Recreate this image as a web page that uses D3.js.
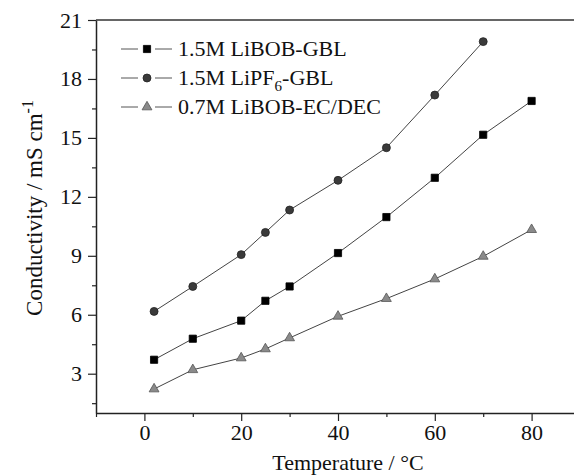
<!DOCTYPE html>
<html>
<head>
<meta charset="utf-8">
<script src="https://cdn.jsdelivr.net/npm/d3@7"></script>
<style>
    body { margin: 0; background: #fff; }
    svg text { font-family: "Liberation Serif", "Times New Roman", serif; fill: #111; }
</style>
</head>
<body>
<div id="chart"></div>
<script>
// temperatures (°C) and conductivities (mS cm-1)
const temps = [2, 10, 20, 25, 30, 40, 50, 60, 70, 80];
const temps70 = [2, 10, 20, 25, 30, 40, 50, 60, 70];
const libobGbl = [3.71, 4.78, 5.70, 6.71, 7.44, 9.14, 10.97, 12.97, 15.16, 16.88];
const lipf6Gbl = [6.17, 7.44, 9.06, 10.19, 11.33, 12.84, 14.50, 17.18, 19.90];
const libobEcDec = [2.22, 3.20, 3.80, 4.26, 4.82, 5.92, 6.82, 7.82, 8.97, 10.33];

const xTicks = [0, 20, 40, 60, 80];
const xMinor = [-10, 10, 30, 50, 70];
const yTicks = [3, 6, 9, 12, 15, 18, 21];
const yMinor = [1.5, 4.5, 7.5, 10.5, 13.5, 16.5, 19.5];

const series = [
    { name: ['1.5M LiBOB-GBL'], x: temps, y: libobGbl, shape: d3.symbolSquare, size: 52, fill: '#000', stroke: '#000' },
    { name: ['1.5M LiPF', '6', '-GBL'], x: temps70, y: lipf6Gbl, shape: d3.symbolCircle, size: 50, fill: '#3a3a3a', stroke: '#222' },
    { name: ['0.7M LiBOB-EC/DEC'], x: temps, y: libobEcDec, shape: d3.symbolTriangle, size: 42, fill: '#8a8a8a', stroke: '#555' }
];

const width = 574, height = 475;
const plot = { left: 96, right: 580, top: 20, bottom: 413 };

const svg = d3.select('#chart').append('svg')
    .attr('width', width)
    .attr('height', height);

const x = d3.scaleLinear().domain([-10, 90]).range([plot.left, plot.right]);
const y = d3.scaleLinear().domain([1, 21]).range([plot.bottom, plot.top]);

/* axes */
svg.append('g')
    .attr('transform', `translate(0,${plot.bottom})`)
    .call(d3.axisBottom(x).tickValues(xTicks).tickSize(8).tickPadding(3).tickSizeOuter(0).tickFormat(d3.format('d')));
svg.append('g')
    .attr('transform', `translate(0,${plot.bottom})`)
    .call(d3.axisBottom(x).tickValues(xMinor).tickSize(4).tickSizeOuter(0).tickFormat(''))
    .call(g => g.select('.domain').remove());

svg.append('g')
    .attr('transform', `translate(${plot.left},0)`)
    .call(d3.axisLeft(y).tickValues(yTicks).tickSize(8).tickPadding(6).tickSizeOuter(0).tickFormat(d3.format('d')));
svg.append('g')
    .attr('transform', `translate(${plot.left},0)`)
    .call(d3.axisLeft(y).tickValues(yMinor).tickSize(4).tickSizeOuter(0).tickFormat(''))
    .call(g => g.select('.domain').remove());

svg.selectAll('.domain').attr('stroke', '#222').attr('stroke-width', 1.5);
svg.selectAll('.tick line').attr('stroke', '#222').attr('stroke-width', 1.2);
svg.selectAll('.tick text')
    .style('font-family', '"Liberation Serif", "Times New Roman", serif')
    .style('font-size', '22px')
    .attr('fill', '#111');

/* top frame line */
svg.append('line')
    .attr('x1', plot.left).attr('x2', width)
    .attr('y1', plot.top).attr('y2', plot.top)
    .attr('stroke', '#333').attr('stroke-width', 1.5);

/* axis titles */
svg.append('text')
    .attr('x', 348).attr('y', 470)
    .attr('text-anchor', 'middle')
    .style('font-size', '22px')
    .text('Temperature / °C');

const yTitle = svg.append('text')
    .attr('transform', 'translate(42,208) rotate(-90)')
    .attr('text-anchor', 'middle')
    .style('font-size', '23px');
yTitle.append('tspan').text('Conductivity / mS cm');
yTitle.append('tspan').attr('dy', '-0.55em').style('font-size', '16px').text('-1');

/* lines and markers */
const line = d3.line().x(d => x(d[0])).y(d => y(d[1]));

series.forEach(s => {
    const pts = s.x.map((t, i) => [t, s.y[i]]);
    svg.append('path')
        .datum(pts)
        .attr('d', line)
        .attr('fill', 'none')
        .attr('stroke', '#444')
        .attr('stroke-width', 1);
    svg.append('g').selectAll('path')
        .data(pts)
        .join('path')
        .attr('transform', d => `translate(${x(d[0])},${y(d[1])})`)
        .attr('d', d3.symbol().type(s.shape).size(s.size))
        .attr('fill', s.fill)
        .attr('stroke', s.stroke)
        .attr('stroke-width', 0.8);
});

/* legend */
const legendY = [49, 78, 107];
series.forEach((s, i) => {
    const g = svg.append('g').attr('transform', `translate(0,${legendY[i]})`);
    g.append('line').attr('x1', 121).attr('x2', 138).attr('stroke', '#555').attr('stroke-width', 1);
    g.append('line').attr('x1', 155).attr('x2', 172).attr('stroke', '#555').attr('stroke-width', 1);
    g.append('path')
        .attr('transform', 'translate(147,0)')
        .attr('d', d3.symbol().type(s.shape).size(s.size))
        .attr('fill', s.fill)
        .attr('stroke', s.stroke)
        .attr('stroke-width', 0.8);
    const t = g.append('text')
        .attr('x', 178).attr('y', 7)
        .style('font-size', '22px');
    t.append('tspan').text(s.name[0]);
    if (s.name.length > 1) {
        t.append('tspan').attr('dy', 6).style('font-size', '15px').text(s.name[1]);
        t.append('tspan').attr('dy', -6).text(s.name[2]);
    }
});
</script>
</body>
</html>
